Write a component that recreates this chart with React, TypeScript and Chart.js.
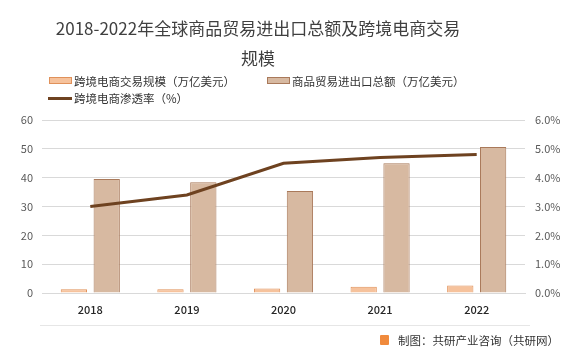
import React, { useEffect, useRef } from "react";
import { Chart, registerables } from "chart.js";

Chart.register(...registerables);

const years = ["2018", "2019", "2020", "2021", "2022"];
const ecommerce = [1.3, 1.3, 1.6, 2.2, 2.6];
const tradeTotal = [39.5, 38.4, 35.4, 45.0, 50.6];
const penetration = [3.0, 3.4, 4.5, 4.7, 4.8];

const FONT = '"Noto Sans CJK SC", "Noto Sans", sans-serif';

export default function App() {
  const ref = useRef<HTMLCanvasElement | null>(null);
  useEffect(() => {
    const ctx = ref.current!;
    const chart = new Chart(ctx, {
      type: "bar",
      data: {
        labels: years,
        datasets: [
          {
            type: "line",
            label: "跨境电商渗透率（%）",
            data: penetration,
            yAxisID: "y1",
            borderColor: "#6E4220",
            borderWidth: 3,
            pointRadius: 0,
            tension: 0,
            order: 0,
          } as any,
          {
            label: "跨境电商交易规模（万亿美元）",
            data: ecommerce,
            yAxisID: "y",
            backgroundColor: "#F6C29C",
            borderColor: "#E0915A",
            borderWidth: 1,
            categoryPercentage: 0.68,
            barPercentage: 0.8,
            order: 1,
          },
          {
            label: "商品贸易进出口总额（万亿美元）",
            data: tradeTotal,
            yAxisID: "y",
            backgroundColor: "#D7B9A1",
            borderColor: "#A9795A",
            borderWidth: 1,
            categoryPercentage: 0.68,
            barPercentage: 0.8,
            order: 1,
          },
        ],
      },
      options: {
        responsive: false,
        animation: false,
        layout: { padding: { top: 120, bottom: 32, left: 0, right: 0 } },
        plugins: { legend: { display: false }, title: { display: false }, tooltip: { enabled: false } },
        scales: {
          x: {
            grid: { display: false, drawTicks: false },
            border: { display: true, color: "#D9D9D9" },
            ticks: { padding: 10, color: "#262626", font: { family: FONT, size: 11, weight: "500" } },
            afterFit: (s: any) => { s.height = 30; },
          },
          y: {
            position: "left",
            min: 0,
            max: 60,
            ticks: { stepSize: 10, padding: 9, color: "#595959", font: { family: FONT, size: 11 } },
            grid: { color: "#D9D9D9", drawTicks: false },
            border: { display: false },
            afterFit: (s: any) => { s.width = 42; },
          },
          y1: {
            position: "right",
            min: 0,
            max: 6,
            ticks: {
              stepSize: 1,
              padding: 10,
              color: "#595959",
              font: { family: FONT, size: 11 },
              callback: (v: any) => Number(v).toFixed(1) + "%",
            },
            grid: { display: false, drawTicks: false },
            border: { display: false },
            afterFit: (s: any) => { s.width = 45; },
          },
        },
      },
    });
    return () => chart.destroy();
  }, []);

  const legendText: React.CSSProperties = {
    position: "absolute",
    fontFamily: FONT,
    fontSize: 11.5,
    color: "#333333",
    lineHeight: "14px",
    whiteSpace: "nowrap",
  };

  return (
    <div style={{ position: "absolute", left: 0, top: 0, width: 570, height: 355, background: "#fff", overflow: "hidden" }}>
      <canvas ref={ref} width={570} height={355} style={{ position: "absolute", left: 0, top: 0 }} />
      <div
        style={{
          position: "absolute",
          left: 0,
          top: 13,
          width: 516,
          textAlign: "center",
          fontFamily: FONT,
          fontSize: 17,
          lineHeight: "30px",
          color: "#404040",
        }}
      >
        <div>2018-2022年全球商品贸易进出口总额及跨境电商交易</div>
        <div>规模</div>
      </div>
      <div style={{ position: "absolute", left: 49, top: 77, width: 23, height: 7, background: "#F6C29C", border: "1px solid #E0915A", boxSizing: "border-box" }} />
      <div style={{ ...legendText, left: 74, top: 74 }}>跨境电商交易规模（万亿美元）</div>
      <div style={{ position: "absolute", left: 267, top: 77, width: 23, height: 7, background: "#D7B9A1", border: "1px solid #A9795A", boxSizing: "border-box" }} />
      <div style={{ ...legendText, left: 292, top: 74 }}>商品贸易进出口总额（万亿美元）</div>
      <div style={{ position: "absolute", left: 48, top: 97, width: 24, height: 3, background: "#6E4220" }} />
      <div style={{ ...legendText, left: 74, top: 91 }}>跨境电商渗透率（%）</div>
      <div style={{ position: "absolute", left: 40, top: 325, width: 490, height: 1, background: "#E6E6E6" }} />
      <div style={{ position: "absolute", left: 380, top: 335, width: 9, height: 10, background: "#F08A3C", borderRadius: 1 }} />
      <div style={{ ...legendText, left: 398, top: 333, fontSize: 11.5, color: "#333" }}>制图：共研产业咨询（共研网）</div>
    </div>
  );
}
